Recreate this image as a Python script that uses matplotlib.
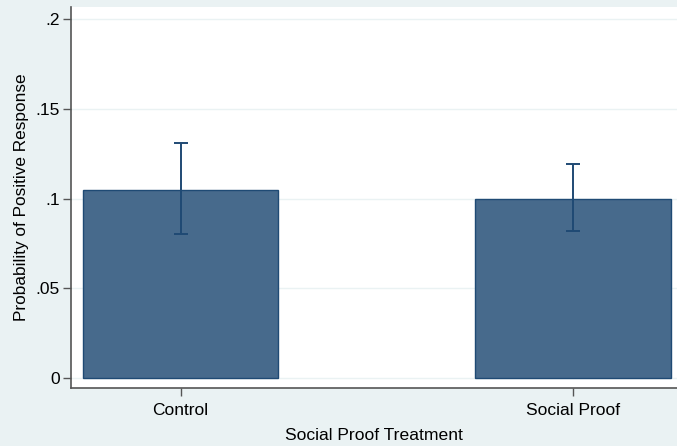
import matplotlib.pyplot as plt

plt.rcParams['font.family'] = ['Liberation Sans', 'DejaVu Sans']

groups = ["Control", "Social Proof"]
means = [0.105, 0.100]
ci_low = [0.080, 0.0817]
ci_high = [0.131, 0.1194]
yticks = [0, 0.05, 0.10, 0.15, 0.20]
ytick_labels = ["0", ".05", ".1", ".15", ".2"]

outer = "#eaf2f3"
bar_fill = "#476a8c"
bar_edge = "#1f4a74"

fig = plt.figure(figsize=(6.77, 4.46), dpi=100, facecolor=outer)
ax = fig.add_axes([0.1049, 0.130, 0.8951, 0.854])
ax.set_facecolor("white")

x = list(range(len(groups)))
ax.bar(x, means, width=0.497, color=bar_fill, edgecolor=bar_edge, linewidth=1.0, zorder=2)
err = [[m - lo for m, lo in zip(means, ci_low)], [hi - m for m, hi in zip(means, ci_high)]]
ax.errorbar(x, means, yerr=err, fmt="none", ecolor=bar_edge, elinewidth=1.4,
            capsize=5, capthick=1.4, zorder=3)

ax.set_xlim(-0.279, 1.265)
ax.set_ylim(-0.00557, 0.2067)
ax.set_xticks(x)
ax.set_xticklabels(groups, fontsize=12.5)
ax.set_yticks(yticks)
ax.set_yticklabels(ytick_labels, fontsize=12.5)

# horizontal grid in the pale background tone
ax.yaxis.grid(True, color=outer, linewidth=1.0, zorder=0)
ax.set_axisbelow(True)

for side in ["top", "right"]:
    ax.spines[side].set_visible(False)
for side in ["left", "bottom"]:
    ax.spines[side].set_color("#555555")
    ax.spines[side].set_linewidth(1.2)
ax.tick_params(axis="both", direction="out", length=6, width=1.0, color="#555555")
ax.tick_params(axis="y", pad=2)
ax.tick_params(axis="x", pad=5)

ax.set_ylabel("Probability of Positive Response", fontsize=12.4, labelpad=5)
ax.set_xlabel("Social Proof Treatment", fontsize=12.6, labelpad=7)

plt.savefig("out.png", dpi=100, facecolor=outer)
